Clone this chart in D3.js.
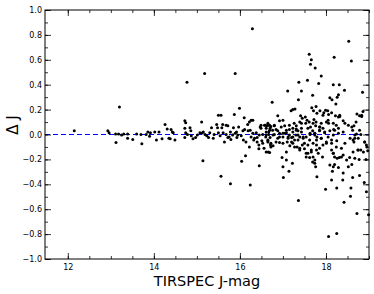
<!DOCTYPE html>
<html>
<head>
<meta charset="utf-8">
<script src="https://cdn.jsdelivr.net/npm/d3@7"></script>
<style>
  body { margin: 0; background: #fff; }
  svg { display: block; font-family: "DejaVu Sans", sans-serif; }
</style>
</head>
<body>
<svg id="chart" width="374" height="294"></svg>
<script>
// TIRSPEC J magnitude of each star
const jMag = [
  12.15, 12.93, 12.96, 13.2, 13.11, 13.18, 13.12, 13.25, 13.3, 13.39, 13.39, 13.51, 13.6, 13.7, 13.72, 13.82,
  13.86, 13.9, 13.92, 14.02, 14.06, 14.12, 14.19, 14.26, 14.31, 14.35, 14.4, 14.43, 14.45, 14.38, 14.49, 14.77,
  14.72, 14.74, 14.72, 14.74, 14.72, 14.78, 14.84, 14.86, 14.87, 14.91, 14.97, 15.01, 15.07, 15.11, 15.12, 15.15,
  15.14, 15.19, 15.23, 15.27, 15.3, 15.34, 15.38, 15.4, 15.46, 15.48, 15.5, 15.56, 15.5, 15.54, 15.58, 15.6,
  15.61, 15.64, 15.68, 15.72, 15.68, 15.72, 15.75, 15.78, 15.79, 15.83, 15.85, 15.87, 15.89, 15.92, 15.93, 15.95,
  15.99, 15.97, 16.03, 16.04, 16.07, 16.08, 16.1, 16.11, 16.13, 16.14, 16.18, 16.19, 16.22, 16.26, 16.24, 16.22,
  16.26, 16.3, 16.32, 16.38, 16.4, 16.44, 16.45, 16.47, 16.49, 16.51, 16.53, 16.56, 16.59, 16.63, 16.6, 16.61,
  16.65, 16.65, 16.67, 16.66, 16.7, 16.71,
  15.18, 15.89, 16.29, 16.75, 17.11, 17.37, 17.43, 17.36, 17.61, 17.66, 17.64, 17.75, 17.57, 17.69, 17.89, 17.83,
  18.19, 18.17, 18.31, 18.43, 18.53, 18.59, 18.85, 18.09, 18.14, 17.23, 17.28, 18.29, 18.26, 18.23,
  17.19, 17.67, 17.77, 17.71, 17.79, 17.86, 17.99, 17.95, 18.04, 18.06, 18.13, 18.22, 18.29, 18.32, 18.72, 18.78,
  18.86, 18.83, 16.88, 16.92, 17.0, 17.41, 17.45, 17.39, 17.52, 17.56, 17.53, 17.61, 17.72, 17.77, 17.76, 17.85,
  18.4, 18.44, 18.52, 18.7, 18.65, 18.62, 18.78, 18.67, 18.81, 18.01, 18.06, 18.17, 18.24, 18.18, 18.29, 18.09,
  17.89, 17.93, 17.85, 17.97, 17.64, 17.69, 17.63, 17.74, 17.79, 17.26, 17.31, 17.23, 17.35, 17.43, 17.3, 17.39,
  16.65, 16.72, 16.8, 16.69, 16.84, 16.96, 17.04, 16.92, 17.08, 17.15, 16.77, 17.0, 17.12,
  16.69, 16.98, 17.08, 17.22, 17.0, 17.14, 17.01, 17.36, 17.79, 17.99, 18.06, 18.25, 18.13, 18.25, 18.42, 18.39,
  18.58, 18.57, 18.62, 18.72, 18.78, 18.89, 18.94, 18.99, 18.17, 18.29, 18.15, 18.52, 18.6, 18.4, 18.77, 18.81,
  18.87, 18.93, 18.63, 18.67, 18.74, 18.55, 18.48, 18.2, 18.26, 18.31, 18.17, 18.13, 18.4, 18.36, 18.09, 18.2,
  17.92, 17.7, 17.74, 17.69, 17.74, 17.76, 17.58, 17.62, 17.54, 17.66, 17.78, 17.85, 17.5, 17.39, 17.45, 17.33,
  17.23, 17.16, 17.27, 17.1, 17.2, 16.72, 16.65, 16.77, 16.88, 16.92, 18.01, 18.13, 17.93, 18.25, 18.44, 18.63,
  18.75, 18.56, 18.71, 18.65, 17.58, 17.7, 17.78, 17.89, 18.05, 18.17, 18.29, 18.4, 17.47, 17.35, 17.43, 17.54,
  17.63, 17.74, 17.85, 16.61, 16.67, 16.7, 16.8, 16.88, 17.0, 17.08, 17.15, 17.23, 17.31,
  15.56, 15.78, 16.24, 16.44, 16.61, 18.95, 18.97, 18.9,
  16.3, 16.34, 16.4, 16.45, 16.49, 16.57, 16.53, 16.61, 16.65, 16.69, 16.72, 16.76, 16.8, 16.84, 16.92, 17.0,
  17.04, 17.08, 17.12, 17.15, 17.2, 17.23, 17.27, 17.31, 17.35, 17.39, 17.43, 17.47, 17.5, 17.54, 17.58, 17.62,
  17.66, 17.7, 17.74, 17.78, 17.82, 17.86, 17.89, 17.93, 17.97, 18.01, 18.05, 18.13, 18.17, 18.2, 18.24, 18.32,
  18.36, 18.6, 18.67, 18.75, 18.83, 18.9, 18.94
];

// TIRSPEC minus reference J
const deltaJ = [
  0.03, 0.03, 0.015, 0.22, 0.005, 0.005, -0.065, -0.005, 0.005, 0.005, -0.03, -0.04, 0.005, 0.0, -0.075, 0.0,
  0.02, -0.015, 0.015, 0.02, -0.045, 0.02, -0.035, 0.08, 0.045, -0.03, 0.04, 0.02, 0.015, -0.035, -0.045, 0.42,
  0.11, 0.095, 0.05, 0.015, -0.025, 0.0, 0.055, 0.03, -0.01, -0.035, -0.025, -0.005, 0.015, 0.1, 0.012, 0.02,
  -0.21, 0.0, -0.01, -0.025, 0.015, 0.055, -0.03, 0.0, 0.08, 0.055, 0.155, 0.155, 0.015, -0.01, 0.055, 0.08,
  0.015, -0.06, 0.075, 0.07, 0.0, -0.025, -0.02, 0.02, -0.04, -0.005, 0.055, 0.16, 0.01, 0.02, -0.025, -0.005,
  0.21, 0.06, -0.01, -0.215, 0.03, -0.045, 0.135, 0.04, -0.17, -0.06, 0.08, 0.03, 0.1, 0.115, 0.035, -0.1,
  -0.02, 0.01, -0.045, 0.015, -0.025, -0.085, -0.25, 0.06, 0.05, -0.05, 0.0, -0.11, 0.075, 0.07, -0.02, 0.02,
  0.09, -0.06, 0.0, -0.14, 0.05, -0.085,
  0.49, 0.49, 0.85, 0.26, 0.35, 0.42, 0.35, 0.28, 0.645, 0.6, 0.565, 0.535, 0.435, 0.315, 0.47, 0.41,
  0.62, 0.4, 0.4, 0.355, 0.75, 0.59, 0.34, 0.295, 0.28, 0.2, 0.205, 0.32, 0.3, 0.245,
  0.19, 0.215, 0.225, 0.19, 0.17, 0.19, 0.195, 0.175, 0.19, 0.16, 0.175, 0.15, 0.14, 0.155, 0.165, 0.15,
  0.185, 0.145, 0.15, 0.11, 0.115, 0.15, 0.13, 0.1, 0.14, 0.115, 0.09, 0.1, 0.12, 0.1, 0.07, 0.06,
  0.11, 0.09, 0.075, 0.1, 0.07, 0.035, 0.035, -0.005, 0.0, 0.1, 0.09, 0.09, 0.075, 0.04, 0.05, 0.03,
  0.09, 0.05, 0.035, 0.015, 0.06, 0.03, 0.0, 0.01, -0.02, 0.09, 0.07, 0.05, 0.03, 0.05, -0.005, -0.02,
  0.075, 0.065, 0.07, 0.035, 0.04, 0.06, 0.07, 0.01, 0.015, 0.04, -0.005, -0.02, -0.02,
  -0.145, -0.185, -0.205, -0.23, -0.26, -0.295, -0.345, -0.53, -0.34, -0.44, -0.82, -0.795, -0.365, -0.43, -0.545, -0.365,
  -0.43, -0.495, -0.345, -0.635, -0.33, -0.385, -0.46, -0.645, -0.26, -0.265, -0.295, -0.26, -0.24, -0.31, -0.2, -0.125,
  -0.14, -0.2, -0.14, -0.19, -0.125, -0.185, -0.205, -0.18, -0.19, -0.185, -0.15, -0.125, -0.165, -0.11, -0.245, -0.24,
  -0.18, -0.18, -0.205, -0.22, -0.23, -0.26, -0.15, -0.185, -0.18, -0.14, -0.125, -0.11, -0.115, -0.11, -0.085, -0.1,
  -0.07, -0.09, -0.045, -0.06, -0.025, -0.07, -0.05, -0.09, -0.03, -0.065, -0.06, -0.07, -0.085, -0.05, -0.07, -0.045,
  -0.03, -0.03, 0.005, -0.06, -0.085, -0.07, -0.045, -0.03, -0.02, -0.005, 0.01, 0.02, -0.03, -0.005, 0.02, -0.02,
  0.01, -0.005, 0.03, -0.005, 0.02, -0.025, 0.0, 0.03, 0.01, 0.035, -0.005, 0.02, 0.045,
  -0.335, -0.395, -0.405, -0.115, -0.14, -0.1, -0.13, -0.06,
  0.115, -0.03, -0.06, -0.005, 0.075, 0.075, -0.07, 0.05, -0.045, 0.075, -0.1, 0.035, 0.075, -0.06, -0.02, -0.07,
  0.01, -0.14, -0.03, 0.075, -0.06, -0.02, -0.1, 0.035, -0.045, -0.125, 0.09, -0.02, -0.07, -0.15, 0.05, -0.045,
  -0.125, 0.09, 0.01, -0.085, -0.15, 0.06, -0.03, 0.155, 0.02, -0.07, 0.115, -0.045, -0.15, 0.035, -0.1, 0.145,
  -0.18, 0.06, -0.03, -0.125, 0.155, -0.06, -0.085
];

const xTicks = [12, 14, 16, 18];
const yTicks = [-1.0, -0.8, -0.6, -0.4, -0.2, 0.0, 0.2, 0.4, 0.6, 0.8, 1.0];

const data = jMag.map((m, i) => ({mag: m, dj: deltaJ[i]}));

const margin = {top: 10, right: 5, bottom: 35, left: 45};
const width = 374, height = 294;

const svg = d3.select("#chart");

let x = d3.scaleLinear()
    .domain([11.47, 19.0])
    .range([margin.left, width - margin.right]);

let y = d3.scaleLinear()
    .domain([-1, 1])
    .range([height - margin.bottom, margin.top]);

const fmt = d => d3.format(".1f")(d).replace("-", "\u2212");

// zero line
svg.append("line")
    .attr("x1", x(11.47)).attr("x2", x(19.0))
    .attr("y1", y(0)).attr("y2", y(0))
    .attr("stroke", "#0000ff")
    .attr("stroke-width", 1)
    .attr("stroke-dasharray", "5,3");

// points
svg.append("g")
    .selectAll("circle")
    .data(data)
    .join("circle")
    .attr("cx", d => x(d.mag))
    .attr("cy", d => y(d.dj))
    .attr("r", 1.5)
    .attr("fill", "#000");

// Axes (ticks point inward, on all four sides)
const xMinor = d3.range(12, 19.01, 0.5);
const yMinor = d3.range(-10, 11).map(v => v / 10);

const axisStyle = g => {
    g.select(".domain").remove();
    g.selectAll("line").attr("stroke", "#000").attr("stroke-width", 0.8);
    g.selectAll("text").attr("font-size", 8).attr("fill", "#000").attr("font-family", "DejaVu Sans");
};

svg.append("g")
    .attr("transform", `translate(0,${height - margin.bottom})`)
    .call(d3.axisBottom(x).tickValues(xMinor).tickSize(-3).tickFormat(""))
    .call(axisStyle);
svg.append("g")
    .attr("transform", `translate(0,${height - margin.bottom})`)
    .call(d3.axisBottom(x).tickValues(xTicks).tickSize(-6).tickPadding(5).tickFormat(d3.format("d")))
    .call(axisStyle);

svg.append("g")
    .attr("transform", `translate(0,${margin.top})`)
    .call(d3.axisTop(x).tickValues(xMinor).tickSize(-3).tickFormat(""))
    .call(axisStyle);
svg.append("g")
    .attr("transform", `translate(0,${margin.top})`)
    .call(d3.axisTop(x).tickValues(xTicks).tickSize(-6).tickFormat(""))
    .call(axisStyle);

svg.append("g")
    .attr("transform", `translate(${margin.left},0)`)
    .call(d3.axisLeft(y).tickValues(yMinor).tickSize(-3).tickFormat(""))
    .call(axisStyle);
svg.append("g")
    .attr("transform", `translate(${margin.left},0)`)
    .call(d3.axisLeft(y).tickValues(yTicks).tickSize(-6).tickPadding(3).tickFormat(fmt))
    .call(axisStyle);

svg.append("g")
    .attr("transform", `translate(${width - margin.right},0)`)
    .call(d3.axisRight(y).tickValues(yMinor).tickSize(-3).tickFormat(""))
    .call(axisStyle);
svg.append("g")
    .attr("transform", `translate(${width - margin.right},0)`)
    .call(d3.axisRight(y).tickValues(yTicks).tickSize(-6).tickFormat(""))
    .call(axisStyle);

// frame
svg.append("rect")
    .attr("x", margin.left).attr("y", margin.top)
    .attr("width", width - margin.left - margin.right)
    .attr("height", height - margin.top - margin.bottom)
    .attr("fill", "none")
    .attr("stroke", "#000")
    .attr("stroke-width", 1);

// labels
svg.append("text")
    .attr("x", (margin.left + width - margin.right) / 2)
    .attr("y", 286)
    .attr("text-anchor", "middle")
    .attr("font-size", 14.5)
    .text("TIRSPEC J-mag");

svg.append("text")
    .attr("transform", `translate(18,125) rotate(-90)`)
    .attr("text-anchor", "middle")
    .attr("font-size", 15)
    .text("\u0394 J");
</script>
</body>
</html>
